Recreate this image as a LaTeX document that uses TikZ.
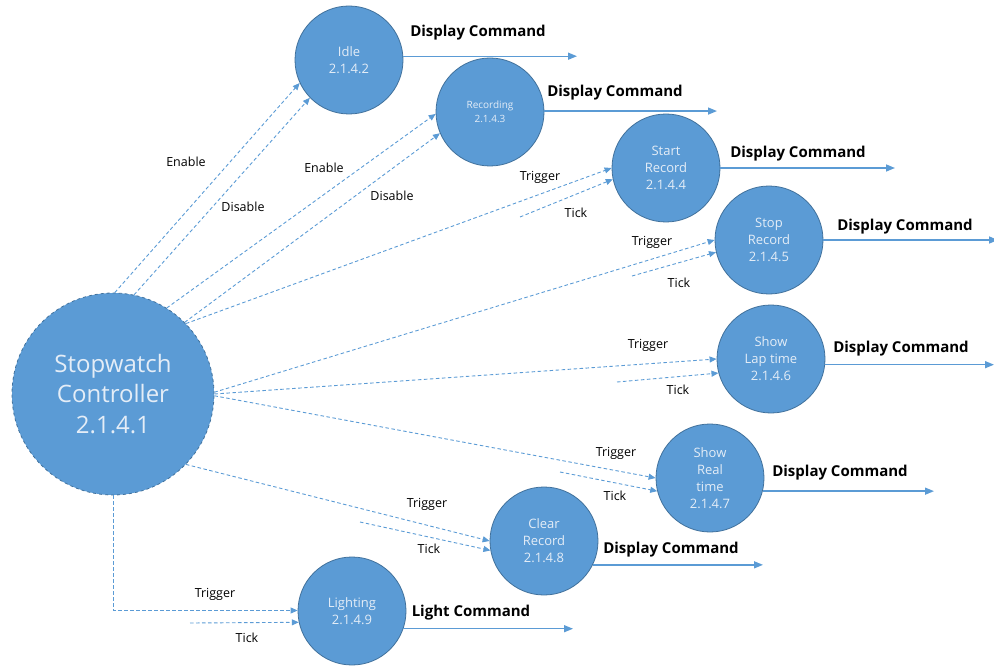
\documentclass[tikz,border=0pt]{standalone}
\usepackage{fontspec}
\setmainfont{Open Sans}
\usetikzlibrary{arrows.meta}
\definecolor{cfill}{HTML}{5B9BD5}
\definecolor{cedge}{HTML}{41719C}
\definecolor{ctext}{HTML}{E4EDF7}
\definecolor{cline}{HTML}{5B9BD5}
\begin{document}
\begin{tikzpicture}[x=1pt,y=-1pt,
  proc/.style={circle, fill=cfill, draw=cedge, line width=0.8pt, minimum size=108pt, inner sep=0pt, align=center, text=ctext, font=\fontsize{13}{17}\selectfont},
  ctrlbox/.style={proc, minimum size=202pt, dashed, font=\fontsize{24}{30.5}\selectfont},
  dline/.style={cline, line width=0.9pt, dash pattern=on 3.5pt off 2.5pt, -{Triangle[length=7pt,width=6pt]}},
  sline/.style={cline, line width=1.4pt, -{Triangle[length=9pt,width=7pt]}},
  lab/.style={font=\fontsize{12.5}{15}\selectfont, inner sep=0pt},
  cmd/.style={font=\fontsize{15}{18}\selectfont\bfseries, inner sep=0pt},
]
\useasboundingbox (0,0) rectangle (994,666);

% processes
\node[ctrlbox] (ctrl) at (113,394) {Stopwatch\\Controller\\2.1.4.1};
\node[proc] (idle) at (349,60) {Idle\\2.1.4.2};
\node[proc, font=\fontsize{10}{14}\selectfont] (rec) at (490,112) {Recording\\2.1.4.3};
\node[proc] (start) at (666,168) {Start\\Record\\2.1.4.4};
\node[proc] (stop) at (769,240) {Stop\\Record\\2.1.4.5};
\node[proc] (lap) at (771,359) {Show\\Lap time\\2.1.4.6};
\node[proc] (real) at (710,478) {Show\\Real\\time\\2.1.4.7};
\node[proc] (clear) at (544,541) {Clear\\Record\\2.1.4.8};
\node[proc] (light) at (352,611) {Lighting\\2.1.4.9};

% free ends
\coordinate (o1) at (577,0);
\coordinate (o2) at (717,0);
\coordinate (o3) at (895,0);
\coordinate (o4) at (998,0);
\coordinate (o5) at (994,0);
\coordinate (o6) at (934,0);
\coordinate (o7) at (763,0);
\coordinate (o8) at (573,0);
\coordinate (t3) at (520,217);
\coordinate (t4) at (632,276);
\coordinate (t5) at (617,382);
\coordinate (t6) at (560,472);
\coordinate (t7) at (360,522);
\coordinate (t8) at (190,623);
\coordinate (bend) at (113.5,610.5);

% control flows
\draw[dline] (ctrl.89) -- (idle.205);
\draw[dline] (ctrl.78) -- (idle.224);
\draw[dline] (ctrl.58) -- (rec.182);
\draw[dline] (ctrl.45) -- (rec.203);
\draw[dline] (ctrl.44) -- (start.180);
\draw[dline] (t3) -- (start.192);
\draw[dline] (ctrl.1) -- (stop.180);
\draw[dline] (t4) -- (stop.193);
\draw[dline] (ctrl.0) -- (lap.180);
\draw[dline] (t5) -- (lap.195);
\draw[dline] (ctrl.-1) -- (real.180);
\draw[dline] (t6) -- (real.194);
\draw[dline] (ctrl.-44) -- (clear.180);
\draw[dline] (t7) -- (clear.190);
\draw[dline] (ctrl.south -| bend) -- (bend) -- (bend -| light.west);
\draw[dline] (t8) -- (light.192);

% outputs
\draw[sline] (idle.4) -- (idle.4 -| o1);
\draw[sline] (rec.1) -- (rec.1 -| o2);
\draw[sline] (start.east) -- (start.east -| o3);
\draw[sline] (stop.east) -- (stop.east -| o4);
\draw[sline] (lap.-6) -- (lap.-6 -| o5);
\draw[sline] (real.-14) -- (real.-14 -| o6);
\draw[sline] (clear.-26) -- (clear.-26 -| o7);
\draw[sline] (light.-19) -- (light.-19 -| o8);

% labels
\node[lab] (l1) at (186,162) {Enable};
\node[lab] (l2) at (243,207) {Disable};
\node[lab] (l3) at (324,168) {Enable};
\node[lab] (l4) at (392,196) {Disable};
\node[lab] (l5) at (540,177) {Trigger};
\node[lab] (l6) at (576,213) {Tick};
\node[lab] (l7) at (652,242) {Trigger};
\node[lab] (l8) at (679,283) {Tick};
\node[lab] (l9) at (648,345) {Trigger};
\node[lab] (l10) at (678,390) {Tick};
\node[lab] (l11) at (616,453) {Trigger};
\node[lab] (l12) at (615,496) {Tick};
\node[lab] (l13) at (427,504) {Trigger};
\node[lab] (l14) at (429,549) {Tick};
\node[lab] (l15) at (215,594) {Trigger};
\node[lab] (l16) at (247,638) {Tick};

\node[cmd] (c1) at (478,33) {Display Command};
\node[cmd] (c2) at (615,93) {Display Command};
\node[cmd] (c3) at (798,154) {Display Command};
\node[cmd] (c4) at (905,227) {Display Command};
\node[cmd] (c5) at (901,349) {Display Command};
\node[cmd] (c6) at (840,473) {Display Command};
\node[cmd] (c7) at (671,550) {Display Command};
\node[cmd] (c8) at (471,613) {Light Command};
\end{tikzpicture}
\end{document}
